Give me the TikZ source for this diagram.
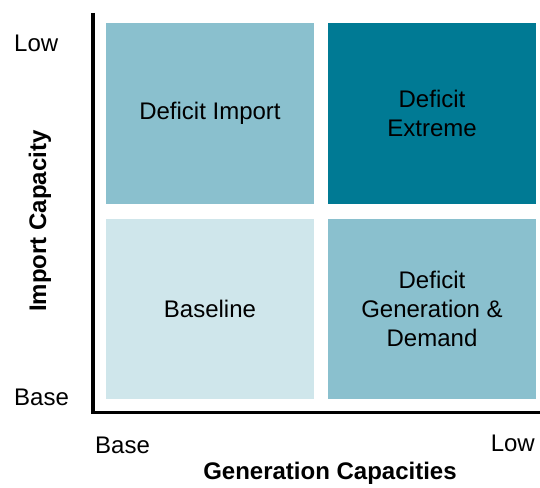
\documentclass[tikz,border=0pt]{standalone}
\usepackage{fontspec}
\setmainfont{Liberation Sans}
\definecolor{tealdark}{HTML}{007A94}
\definecolor{tealmid}{HTML}{8AC0CE}
\definecolor{teallight}{HTML}{CFE6EB}
\tikzset{
  cell/.style={inner sep=0pt, minimum width=208pt, align=center,
    font=\fontsize{24}{29}\selectfont},
  ticklabel/.style={inner sep=0pt, font=\fontsize{24}{29}\selectfont},
  axistitle/.style={inner sep=0pt, font=\fontsize{24}{29}\selectfont\bfseries}
}
\begin{document}
\begin{tikzpicture}[x=1pt, y=-1pt]
  \useasboundingbox (0,0) rectangle (540,487);
  %\draw[help lines, step=20] (0,0) grid (540,487);
  \node[cell, fill=tealmid, minimum height=181pt] (defimp) at (210, 113.5) {Deficit Import};
  \node[cell, fill=tealdark, minimum height=181pt] (defext) at (432, 113.5) {Deficit\\Extreme};
  \node[cell, fill=teallight, minimum height=180pt] (base) at (210, 309) {Baseline};
  \node[cell, fill=tealmid, minimum height=180pt] (defgen) at (432, 309) {Deficit\\Generation \&\\Demand};

  \coordinate (ytop) at (93, 13);
  \coordinate (orig) at (93, 412.5);
  \coordinate (xend) at (540, 412.5);
  \draw[line width=3.5pt] (ytop) -- (orig) -- (xend);

  \node[ticklabel, anchor=west] (ylow) at (14, 43) {Low};
  \node[ticklabel, anchor=west] (ybase) at (14, 397) {Base};
  \node[ticklabel, anchor=west] (xbase) at (95, 445) {Base};
  \node[ticklabel, anchor=east] (xlow) at (535, 443) {Low};
  \node[axistitle] (xtitle) at (330, 473) {Generation Capacities};
  \node[axistitle, rotate=90] (ytitle) at (40, 221) {Import Capacity};
\end{tikzpicture}
\end{document}
